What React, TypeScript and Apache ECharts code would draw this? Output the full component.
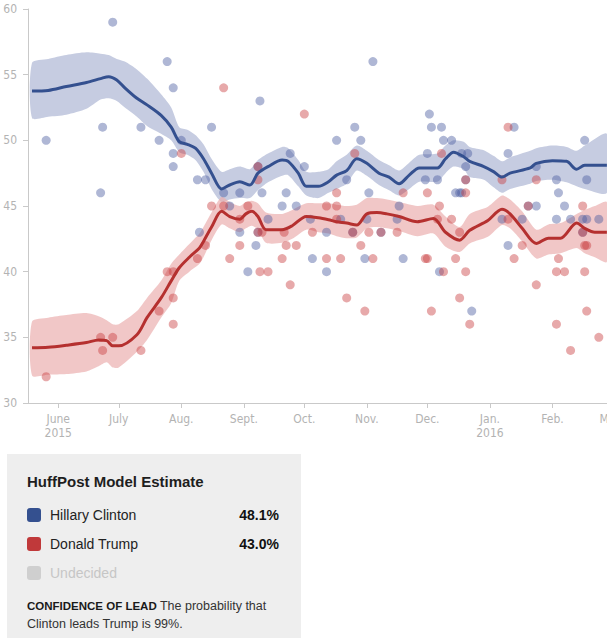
import React, { useEffect, useRef } from "react";
import * as echarts from "echarts";

// ---- Data ----
const monthTicks = ["2015-06-01", "2015-07-01", "2015-08-01", "2015-09-01", "2015-10-01", "2015-11-01", "2015-12-01", "2016-01-01", "2016-02-01", "2016-03-01"];
const monthLabels = ["June\n2015", "July", "Aug.", "Sept.", "Oct.", "Nov.", "Dec.", "Jan.\n2016", "Feb.", "Mar."];
const axisStart = "2015-05-17";
const axisEnd = "2016-03-06";

const clintonTrendDates = ["2015-05-19", "2015-05-27", "2015-06-05", "2015-06-15", "2015-06-22", "2015-06-26", "2015-06-30", "2015-07-04", "2015-07-10", "2015-07-15", "2015-07-22", "2015-07-27", "2015-07-31", "2015-08-04", "2015-08-08", "2015-08-12", "2015-08-16", "2015-08-21", "2015-08-25", "2015-08-30", "2015-09-04", "2015-09-08", "2015-09-13", "2015-09-20", "2015-09-23", "2015-09-28", "2015-10-02", "2015-10-08", "2015-10-13", "2015-10-17", "2015-10-22", "2015-10-27", "2015-11-01", "2015-11-07", "2015-11-12", "2015-11-17", "2015-11-22", "2015-11-27", "2015-12-06", "2015-12-10", "2015-12-14", "2015-12-19", "2015-12-22", "2015-12-29", "2016-01-03", "2016-01-07", "2016-01-11", "2016-01-21", "2016-01-24", "2016-02-01", "2016-02-08", "2016-02-13", "2016-02-17", "2016-02-28"];
const clintonMid = [53.75, 53.8, 54.1, 54.4, 54.7, 54.85, 54.6, 54.0, 53.2, 52.7, 51.9, 51.0, 49.9, 49.7, 49.4, 48.6, 47.5, 46.3, 46.6, 46.85, 46.6, 47.5, 48.0, 48.5, 48.4, 47.5, 46.5, 46.5, 46.85, 47.35, 47.7, 48.6, 48.25, 47.5, 47.2, 46.7, 47.35, 47.9, 47.9, 48.6, 49.1, 48.75, 48.4, 48.0, 47.6, 47.2, 47.5, 47.9, 48.25, 48.45, 48.4, 47.8, 48.1, 48.1];
const clintonLow = [51.7, 51.8, 51.95, 52.4, 53.1, 53.2, 53.0, 52.5, 51.8, 51.1, 50.5, 50.0, 49.1, 48.9, 48.5, 47.6, 46.3, 45.3, 45.5, 45.6, 45.6, 46.2, 46.8, 47.3, 47.35, 46.5, 45.8, 45.6, 46.0, 46.3, 46.7, 47.7, 47.3, 46.6, 46.2, 45.8, 46.3, 46.85, 46.85, 47.5, 48.0, 47.8, 47.2, 47.0, 46.4, 46.0, 46.3, 46.7, 46.9, 47.0, 46.8, 46.5, 46.3, 46.0];
const clintonHigh = [55.9, 56.2, 56.5, 56.7, 56.6, 56.5, 56.2, 56.0, 55.4, 54.7, 53.5, 52.5, 51.0, 50.8, 50.4, 49.7, 48.6, 47.6, 47.8, 48.0, 47.8, 48.5, 49.0, 49.5, 49.4, 48.5, 47.6, 47.6, 47.8, 48.4, 48.9, 49.6, 49.2, 48.5, 48.1, 47.7, 48.3, 48.9, 49.0, 49.6, 50.0, 49.9, 49.5, 49.25, 48.8, 48.4, 48.7, 49.2, 49.4, 49.6, 49.5, 49.2, 49.6, 50.5];

const trumpTrendDates = ["2015-05-19", "2015-05-27", "2015-06-05", "2015-06-15", "2015-06-21", "2015-06-25", "2015-06-28", "2015-07-01", "2015-07-10", "2015-07-15", "2015-07-22", "2015-07-27", "2015-07-31", "2015-08-05", "2015-08-10", "2015-08-12", "2015-08-16", "2015-08-21", "2015-08-25", "2015-08-30", "2015-09-02", "2015-09-05", "2015-09-08", "2015-09-12", "2015-09-20", "2015-09-25", "2015-10-02", "2015-10-08", "2015-10-13", "2015-10-17", "2015-10-22", "2015-10-27", "2015-11-01", "2015-11-06", "2015-11-11", "2015-11-17", "2015-11-26", "2015-12-04", "2015-12-10", "2015-12-17", "2015-12-22", "2015-12-31", "2016-01-07", "2016-01-11", "2016-01-17", "2016-01-24", "2016-01-30", "2016-02-05", "2016-02-13", "2016-02-17", "2016-02-22", "2016-02-28"];
const trumpMid = [34.2, 34.25, 34.4, 34.6, 34.8, 34.75, 34.35, 34.35, 35.2, 36.5, 38.0, 39.3, 40.3, 41.1, 41.8, 42.3, 43.4, 44.6, 44.2, 44.0, 44.4, 44.6, 44.2, 43.2, 43.2, 43.5, 44.2, 44.1, 43.95, 43.8, 43.7, 43.55, 44.4, 44.5, 44.4, 44.2, 43.8, 44.05, 43.0, 42.4, 43.15, 43.9, 44.75, 44.4, 43.3, 42.15, 42.55, 42.55, 43.7, 43.3, 43.0, 43.0];
const trumpLow = [32.1, 32.15, 32.2, 32.4, 32.8, 33.1, 32.7, 32.7, 33.9, 34.8, 36.5, 37.6, 39.3, 40.0, 40.6, 41.1, 42.4, 43.6, 43.3, 43.0, 43.3, 43.5, 43.2, 42.2, 42.2, 42.5, 43.2, 43.0, 42.9, 42.7, 42.55, 42.6, 43.3, 43.4, 43.3, 43.1, 42.7, 42.9, 41.9, 41.5, 42.15, 42.65, 43.55, 43.3, 42.3, 41.0, 41.3, 41.4, 41.8, 41.4, 41.1, 40.75];
const trumpHigh = [36.2, 36.5, 36.7, 36.85, 36.6, 36.3, 36.0, 36.0, 37.0, 38.0, 39.3, 40.6, 41.3, 42.1, 42.9, 43.4, 44.5, 45.7, 45.3, 45.0, 45.3, 45.4, 45.2, 44.5, 44.4, 44.7, 45.2, 45.2, 45.2, 45.1, 45.0, 45.1, 45.6, 45.6, 45.5, 45.3, 45.0, 45.1, 44.2, 43.4, 44.4, 44.95, 45.8, 45.5, 44.6, 43.2, 43.6, 43.7, 44.4, 44.7, 45.0, 45.3];

const clintonPollDates = ["2015-05-26", "2015-06-28", "2015-06-23", "2015-06-22", "2015-07-12", "2015-07-21", "2015-07-25", "2015-07-28", "2015-07-28", "2015-07-28", "2015-08-01", "2015-08-09", "2015-08-13", "2015-08-10", "2015-08-16", "2015-08-22", "2015-08-25", "2015-08-30", "2015-08-30", "2015-09-07", "2015-09-08", "2015-09-08", "2015-09-09", "2015-09-03", "2015-09-10", "2015-09-13", "2015-09-20", "2015-09-22", "2015-09-24", "2015-09-27", "2015-10-01", "2015-10-04", "2015-10-05", "2015-10-12", "2015-10-12", "2015-10-17", "2015-10-19", "2015-10-22", "2015-10-25", "2015-10-26", "2015-10-29", "2015-10-31", "2015-11-01", "2015-11-02", "2015-11-04", "2015-11-08", "2015-11-16", "2015-11-17", "2015-11-19", "2015-11-30", "2015-12-01", "2015-12-02", "2015-12-03", "2015-12-06", "2015-12-07", "2015-12-08", "2015-12-09", "2015-12-13", "2015-12-15", "2015-12-17", "2015-12-18", "2015-12-20", "2015-12-20", "2015-12-21", "2015-12-18", "2015-12-23", "2016-01-07", "2016-01-10", "2016-01-13", "2016-01-10", "2016-01-17", "2016-01-20", "2016-01-24", "2016-01-24", "2016-02-03", "2016-02-04", "2016-02-03", "2016-02-07", "2016-02-10", "2016-02-16", "2016-02-17", "2016-02-18", "2016-02-18", "2016-02-16", "2016-02-24"];
const clintonPollValues = [50, 59, 51, 46, 51, 50, 56, 54, 49, 48, 50, 47, 47, 43, 51, 46, 45, 46, 43, 42, 48, 43, 53, 40, 46, 44, 45, 46, 49, 45, 48, 44, 41, 43, 40, 50, 44, 47, 43, 51, 50, 41, 44, 46, 56, 43, 44, 45, 41, 47, 49, 52, 51, 47, 40, 51, 50, 50, 46, 46, 49, 48, 47, 49, 46, 37, 44, 49, 51, 42, 44, 45, 48, 45, 47, 46, 44, 45, 44, 44, 50, 47, 44, 43, 44];

const trumpPollDates = ["2015-05-26", "2015-06-28", "2015-06-23", "2015-06-22", "2015-07-12", "2015-07-21", "2015-07-25", "2015-07-28", "2015-07-28", "2015-07-28", "2015-08-01", "2015-08-09", "2015-08-13", "2015-08-16", "2015-08-22", "2015-08-22", "2015-08-25", "2015-08-30", "2015-08-30", "2015-09-03", "2015-09-08", "2015-09-08", "2015-09-08", "2015-09-09", "2015-09-10", "2015-09-13", "2015-09-20", "2015-09-21", "2015-09-22", "2015-09-24", "2015-09-27", "2015-10-01", "2015-10-05", "2015-10-12", "2015-10-12", "2015-10-17", "2015-10-17", "2015-10-17", "2015-10-19", "2015-10-22", "2015-10-25", "2015-10-26", "2015-10-29", "2015-10-31", "2015-11-02", "2015-11-04", "2015-11-08", "2015-11-16", "2015-11-19", "2015-11-30", "2015-12-01", "2015-12-01", "2015-12-03", "2015-12-06", "2015-12-07", "2015-12-08", "2015-12-09", "2015-12-13", "2015-12-15", "2015-12-17", "2015-12-17", "2015-12-20", "2015-12-20", "2015-12-20", "2015-12-22", "2016-01-07", "2016-01-10", "2016-01-10", "2016-01-13", "2016-01-17", "2016-01-20", "2016-01-24", "2016-01-24", "2016-02-03", "2016-02-03", "2016-02-04", "2016-02-07", "2016-02-10", "2016-02-16", "2016-02-16", "2016-02-17", "2016-02-18", "2016-02-17", "2016-02-18", "2016-02-24"];
const trumpPollValues = [32, 35, 34, 35, 34, 37, 40, 40, 38, 36, 49, 41, 42, 45, 54, 45, 41, 44, 42, 45, 48, 47, 43, 40, 43, 40, 41, 43, 42, 39, 42, 52, 43, 45, 41, 46, 45, 44, 41, 38, 43, 49, 42, 37, 43, 41, 43, 43, 46, 41, 41, 46, 37, 44, 45, 49, 40, 44, 41, 43, 38, 46, 40, 47, 36, 47, 51, 44, 41, 42, 45, 47, 39, 40, 36, 41, 40, 34, 45, 43, 42, 42, 40, 37, 35];

const candidates = ["Hillary Clinton", "Donald Trump", "Undecided"];
const estimates = ["48.1%", "43.0%", ""];

// ---- Helpers ----
const toTime = (s: string) => {
  const [y, m, d] = s.split("-").map(Number);
  return new Date(y, m - 1, d).getTime();
};
const pairs = (dates: string[], vals: number[]) => dates.map((d, i) => [toTime(d), vals[i]]);
const triples = (dates: string[], lo: number[], hi: number[]) => dates.map((d, i) => [toTime(d), lo[i], hi[i]]);

const AXIS_FONT = "'DejaVu Sans Condensed', 'Liberation Sans Narrow', 'DejaVu Sans', sans-serif";
const UI_FONT = "'Liberation Sans', Arial, sans-serif";

const BLUE_LINE = "#34508f";
const BLUE_BAND = "#c6cce1";
const BLUE_DOT = "rgba(72,92,160,0.55)";
const RED_LINE = "#b5302f";
const RED_BAND = "rgba(235,175,175,0.7)";
const RED_DOT = "rgba(200,60,62,0.55)";

const bandSeries = (name: string, data: number[][], fill: string) => ({
  name,
  type: "custom",
  data,
  silent: true,
  z: 1,
  clip: true,
  encode: { x: 0, y: [1, 2] },
  renderItem: (params: any, api: any) => {
    if (params.dataIndex !== 0) return null;
    const upper = data.map((p) => api.coord([p[0], p[2]]));
    const lower = data.map((p) => api.coord([p[0], p[1]])).reverse();
    return {
      type: "polygon",
      shape: { points: upper.concat(lower), smooth: 0.25 },
      style: { fill },
    };
  },
});

export default function App() {
  const ref = useRef<HTMLDivElement>(null);

  useEffect(() => {
    if (!ref.current) return;
    const chart = echarts.init(ref.current, undefined, { renderer: "svg" });
    const tickTimes = monthTicks.map(toTime);
    const labelFor = (v: number) => {
      let best = 0;
      let bestDiff = Infinity;
      tickTimes.forEach((t, i) => {
        const df = Math.abs(t - v);
        if (df < bestDiff) {
          bestDiff = df;
          best = i;
        }
      });
      return bestDiff < 3 * 86400000 ? monthLabels[best] : "";
    };

    const axisGray = "#c9c9c9";
    const labelGray = "#b3b3b3";

    const legendY = [515, 544, 573];
    const legendColors = [BLUE_LINE, "#c0393a", "#cfcfcf"];
    const legendTextColors = ["#222222", "#222222", "#c6c6c6"];

    const graphics: any[] = [
      {
        type: "rect",
        shape: { x: 7, y: 454, width: 294, height: 190 },
        style: { fill: "#eeeeee" },
        silent: true,
      },
      {
        type: "text",
        x: 27,
        y: 481,
        style: {
          text: "HuffPost Model Estimate",
          font: `bold 15px ${UI_FONT}`,
          fill: "#1e1e1e",
          align: "left",
          verticalAlign: "middle",
        },
      },
    ];
    candidates.forEach((name, i) => {
      graphics.push({
        type: "rect",
        shape: { x: 27, y: legendY[i] - 7, width: 14, height: 14, r: 3 },
        style: { fill: legendColors[i] },
      });
      graphics.push({
        type: "text",
        x: 50,
        y: legendY[i],
        style: {
          text: name,
          font: `14px ${UI_FONT}`,
          fill: legendTextColors[i],
          align: "left",
          verticalAlign: "middle",
        },
      });
      if (estimates[i]) {
        graphics.push({
          type: "text",
          x: 279,
          y: legendY[i],
          style: {
            text: estimates[i],
            font: `bold 14px ${UI_FONT}`,
            fill: "#111111",
            align: "right",
            verticalAlign: "middle",
          },
        });
      }
    });
    graphics.push({
      type: "text",
      x: 27,
      y: 606,
      style: {
        text: "{b|CONFIDENCE OF LEAD} The probability that",
        font: `12.5px ${UI_FONT}`,
        fill: "#333333",
        align: "left",
        verticalAlign: "middle",
        rich: {
          b: { font: `bold 11.5px ${UI_FONT}`, fill: "#1a1a1a" },
        },
      },
    });
    graphics.push({
      type: "text",
      x: 27,
      y: 624,
      style: {
        text: "Clinton leads Trump is 99%.",
        font: `12.5px ${UI_FONT}`,
        fill: "#333333",
        align: "left",
        verticalAlign: "middle",
      },
    });

    const smooth = 0.3;

    chart.setOption({
      animation: false,
      backgroundColor: "#ffffff",
      grid: { left: 28, top: 9, width: 593, height: 394, containLabel: false },
      xAxis: {
        type: "value",
        min: toTime(axisStart),
        max: toTime(axisEnd),
        axisLine: { show: true, lineStyle: { color: axisGray, width: 1 } },
        axisTick: { show: true, length: 5, customValues: tickTimes, lineStyle: { color: axisGray } },
        axisLabel: {
          customValues: tickTimes,
          formatter: (v: number) => labelFor(v),
          color: labelGray,
          fontSize: 12,
          lineHeight: 14,
          margin: 9,
          fontFamily: AXIS_FONT,
          align: "center",
        },
        splitLine: { show: false },
      },
      yAxis: {
        type: "value",
        min: 30,
        max: 60,
        interval: 5,
        axisLine: { show: true, lineStyle: { color: axisGray, width: 1 } },
        axisTick: { show: true, length: 5, lineStyle: { color: axisGray } },
        axisLabel: { color: labelGray, fontSize: 12, margin: 11, fontFamily: AXIS_FONT },
        splitLine: { show: false },
      },
      graphic: graphics,
      series: [
        bandSeries("Clinton range", triples(clintonTrendDates, clintonLow, clintonHigh), BLUE_BAND),
        bandSeries("Trump range", triples(trumpTrendDates, trumpLow, trumpHigh), RED_BAND),
        {
          name: "Clinton polls",
          type: "scatter",
          data: pairs(clintonPollDates, clintonPollValues),
          symbolSize: 9,
          itemStyle: { color: BLUE_DOT },
          z: 2,
        },
        {
          name: "Trump polls",
          type: "scatter",
          data: pairs(trumpPollDates, trumpPollValues),
          symbolSize: 9,
          itemStyle: { color: RED_DOT },
          z: 2,
        },
        {
          name: "Hillary Clinton",
          type: "line",
          data: pairs(clintonTrendDates, clintonMid),
          symbol: "none",
          smooth,
          lineStyle: { color: BLUE_LINE, width: 3 },
          z: 3,
        },
        {
          name: "Donald Trump",
          type: "line",
          data: pairs(trumpTrendDates, trumpMid),
          symbol: "none",
          smooth,
          lineStyle: { color: RED_LINE, width: 3 },
          z: 3,
        },
      ],
    });
    return () => chart.dispose();
  }, []);

  return (
    <div
      style={{
        position: "absolute",
        left: 0,
        top: 0,
        width: 607,
        height: 638,
        overflow: "hidden",
        background: "#ffffff",
      }}
    >
      <div ref={ref} style={{ width: 640, height: 638 }} />
    </div>
  );
}
